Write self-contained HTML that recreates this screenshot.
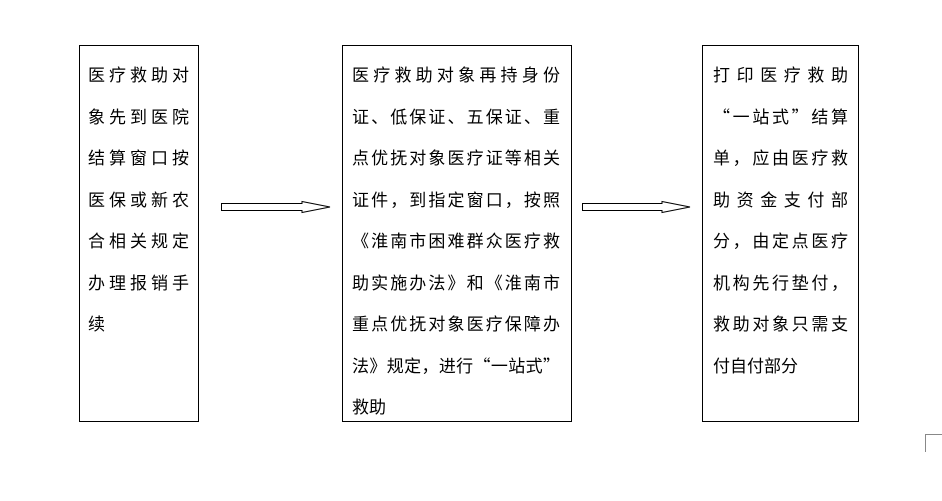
<!DOCTYPE html>
<html><head><meta charset="utf-8"><style>
body{margin:0;width:942px;height:501px;background:#fff;position:relative;overflow:hidden;font-family:"Noto Sans CJK SC","Liberation Sans",sans-serif;color:#000}
.box{position:absolute;border:1px solid #000;box-sizing:border-box;top:45px;height:377px}
.l{position:absolute;font-size:17px;line-height:20px;white-space:nowrap;text-align:justify;text-align-last:justify}
.l.n{text-align-last:left}
</style></head><body>
<div class="box" style="left:79px;width:120px"></div>
<div class="box" style="left:342px;width:230px"></div>
<div class="box" style="left:702px;width:157px"></div>
<svg width="942" height="501" style="position:absolute;left:0;top:0">
<path d="M221.5 203.5 H302 V201.5 L330 207 L302 212.5 V210.5 H221.5 Z" fill="none" stroke="#000" stroke-width="1"/>
<path d="M582.5 203.5 H662 V201.5 L690 207 L662 212.5 V210.5 H582.5 Z" fill="none" stroke="#000" stroke-width="1"/>
<path d="M925.5 452 V434.5 H942" fill="none" stroke="#888" stroke-width="1"/>
</svg>
<div id="c"></div>
<script>
var boxes=[[88,101,["医疗救助对","象先到医院","结算窗口按","医保或新农","合相关规定","办理报销手","续"]],
[352,208,["医疗救助对象再持身份","证、低保证、五保证、重","点优抚对象医疗证等相关","证件，到指定窗口，按照","《淮南市困难群众医疗救","助实施办法》和《淮南市","重点优抚对象医疗保障办","法》规定，进行“一站式”","救助"]],
[713,135,["打印医疗救助","“一站式”结算","单，应由医疗救","助资金支付部","分，由定点医疗","机构先行垫付，","救助对象只需支","付自付部分"]]];
var h="";
boxes.forEach(function(b){b[2].forEach(function(t,i){var last=i==b[2].length-1;
h+='<div class="l'+(last?' n':'')+'" style="left:'+b[0]+'px;top:'+(64+i*41.5)+'px;width:'+b[1]+'px">'+t+'</div>';});});
document.getElementById("c").innerHTML=h;
</script>
</body></html>
